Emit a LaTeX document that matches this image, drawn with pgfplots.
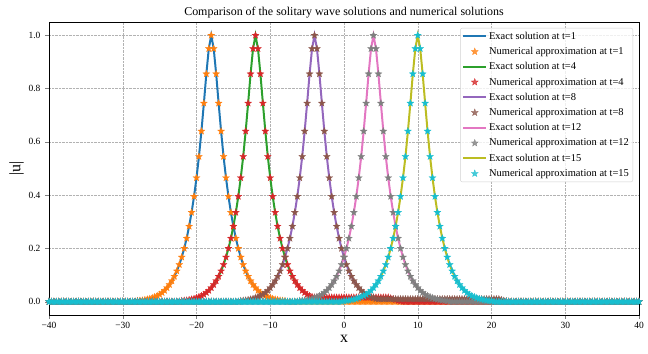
\documentclass[border=0pt]{standalone}
\usepackage{fontspec}
\setmainfont{Liberation Serif}
\usepackage{pgfplots}
\usepackage{pgfplotstable}
\pgfplotsset{compat=1.18}

\definecolor{c0}{HTML}{1F77B4}
\definecolor{c1}{HTML}{FF7F0E}
\definecolor{c2}{HTML}{2CA02C}
\definecolor{c3}{HTML}{D62728}
\definecolor{c4}{HTML}{9467BD}
\definecolor{c5}{HTML}{8C564B}
\definecolor{c6}{HTML}{E377C2}
\definecolor{c7}{HTML}{7F7F7F}
\definecolor{c8}{HTML}{BCBD22}
\definecolor{c9}{HTML}{17BECF}

% filled five-pointed star, like matplotlib's '*'
\pgfdeclareplotmark{fstar}{%
  \pgfpathmoveto{\pgfpointpolar{90}{\pgfplotmarksize}}%
  \pgfpathlineto{\pgfpointpolar{126}{0.42\pgfplotmarksize}}%
  \pgfpathlineto{\pgfpointpolar{162}{\pgfplotmarksize}}%
  \pgfpathlineto{\pgfpointpolar{198}{0.42\pgfplotmarksize}}%
  \pgfpathlineto{\pgfpointpolar{234}{\pgfplotmarksize}}%
  \pgfpathlineto{\pgfpointpolar{270}{0.42\pgfplotmarksize}}%
  \pgfpathlineto{\pgfpointpolar{306}{\pgfplotmarksize}}%
  \pgfpathlineto{\pgfpointpolar{342}{0.42\pgfplotmarksize}}%
  \pgfpathlineto{\pgfpointpolar{18}{\pgfplotmarksize}}%
  \pgfpathlineto{\pgfpointpolar{54}{0.42\pgfplotmarksize}}%
  \pgfpathclose
  \pgfusepathqfillstroke
}

% |u| at t=1,4,8,12,15 (a..e); bn, cn = numerical t=4, t=8 with small radiation
\pgfplotstableread{
x a b bn c cn d e
-40 0 0 0 0 0 0 0
-39.667 0 0 0 0 0 0 0
-39.333 0 0 0 0 0 0 0
-39 0 0 0 0 0 0 0
-38.667 0 0 0 0 0 0 0
-38.333 0 0 0 0 0 0 0
-38 0 0 0 0 0 0 0
-37.667 0 0 0 0 0 0 0
-37.333 0 0 0 0 0 0 0
-37 0 0 0 0 0 0 0
-36.667 0 0 0 0 0 0 0
-36.333 0 0 0 0 0 0 0
-36 0 0 0 0 0 0 0
-35.667 0 0 0 0 0 0 0
-35.333 0 0 0 0 0 0 0
-35 0 0 0 0 0 0 0
-34.667 0 0 0 0 0 0 0
-34.333 0 0 0 0 0 0 0
-34 0 0 0 0 0 0 0
-33.667 0 0 0 0 0 0 0
-33.333 0 0 0 0 0 0 0
-33 0 0 0 0 0 0 0
-32.667 0 0 0 0 0 0 0
-32.333 0 0 0 0 0 0 0
-32 0 0 0 0 0 0 0
-31.667 0 0 0 0 0 0 0
-31.333 0 0 0 0 0 0 0
-31 0 0 0 0 0 0 0
-30.667 0 0 0 0 0 0 0
-30.333 0 0 0 0 0 0 0
-30 0 0 0 0 0 0 0
-29.667 0 0 0 0 0 0 0
-29.333 0 0 0 0 0 0 0
-29 0 0 0 0 0 0 0
-28.667 0 0 0 0 0 0 0
-28.333 0 0 0 0 0 0 0
-28 0.003 0 0 0 0 0 0
-27.667 0.004 0 0 0 0 0 0
-27.333 0.005 0 0 0 0 0 0
-27 0.007 0 0 0 0 0 0
-26.667 0.009 0 0 0 0 0 0
-26.333 0.011 0 0 0 0 0 0
-26 0.014 0 0 0 0 0 0
-25.667 0.018 0 0 0 0 0 0
-25.333 0.022 0 0 0 0 0 0
-25 0.027 0 0 0 0 0 0
-24.667 0.034 0 0 0 0 0 0
-24.333 0.042 0 0 0 0 0 0
-24 0.052 0 0 0 0 0 0
-23.667 0.064 0 0 0 0 0 0
-23.333 0.078 0 0 0 0 0 0
-23 0.095 0 0 0 0 0 0
-22.667 0.115 0 0 0 0 0 0
-22.333 0.139 0 0 0 0 0 0
-22 0.167 0.003 0.003 0 0 0 0
-21.667 0.200 0.004 0.004 0 0 0 0
-21.333 0.238 0.005 0.005 0 0 0 0
-21 0.283 0.007 0.007 0 0 0 0
-20.667 0.335 0.009 0.009 0 0 0 0
-20.333 0.395 0.011 0.011 0 0 0 0
-20 0.465 0.014 0.014 0 0 0 0
-19.667 0.545 0.018 0.018 0 0 0 0
-19.333 0.640 0.022 0.022 0 0 0 0
-19 0.745 0.027 0.027 0 0 0 0
-18.667 0.855 0.034 0.034 0 0 0 0
-18.333 0.950 0.042 0.042 0 0 0 0
-18 1.000 0.052 0.052 0 0 0 0
-17.667 0.950 0.064 0.064 0 0 0 0
-17.333 0.855 0.078 0.078 0 0 0 0
-17 0.745 0.095 0.095 0 0 0 0
-16.667 0.640 0.115 0.115 0 0 0 0
-16.333 0.545 0.139 0.139 0 0 0 0
-16 0.465 0.167 0.167 0 0 0 0
-15.667 0.395 0.200 0.200 0 0 0 0
-15.333 0.335 0.238 0.238 0 0 0 0
-15 0.283 0.283 0.283 0 0 0 0
-14.667 0.238 0.335 0.335 0 0 0 0
-14.333 0.200 0.395 0.395 0 0 0 0
-14 0.167 0.465 0.465 0.003 0.003 0 0
-13.667 0.139 0.545 0.545 0.004 0.004 0 0
-13.333 0.115 0.640 0.640 0.005 0.005 0 0
-13 0.095 0.745 0.745 0.007 0.007 0 0
-12.667 0.078 0.855 0.855 0.009 0.009 0 0
-12.333 0.064 0.950 0.950 0.011 0.011 0 0
-12 0.052 1.000 1.000 0.014 0.014 0 0
-11.667 0.042 0.950 0.950 0.018 0.018 0 0
-11.333 0.034 0.855 0.855 0.022 0.022 0 0
-11 0.027 0.745 0.745 0.027 0.027 0 0
-10.667 0.022 0.640 0.640 0.034 0.034 0 0
-10.333 0.018 0.545 0.545 0.042 0.042 0 0
-10 0.014 0.465 0.465 0.052 0.052 0 0
-9.667 0.011 0.395 0.395 0.064 0.064 0 0
-9.333 0.009 0.335 0.335 0.078 0.078 0 0
-9 0.007 0.283 0.283 0.095 0.095 0 0
-8.667 0.005 0.238 0.238 0.115 0.115 0 0
-8.333 0.004 0.200 0.200 0.139 0.139 0 0
-8 0.003 0.167 0.167 0.167 0.167 0 0
-7.667 0 0.139 0.139 0.200 0.200 0 0
-7.333 0 0.115 0.115 0.238 0.238 0 0
-7 0 0.095 0.095 0.283 0.283 0 0
-6.667 0 0.078 0.078 0.335 0.335 0 0
-6.333 0 0.064 0.064 0.395 0.395 0 0
-6 0 0.052 0.052 0.465 0.465 0.003 0
-5.667 0 0.042 0.042 0.545 0.545 0.004 0
-5.333 0 0.034 0.034 0.640 0.640 0.005 0
-5 0 0.027 0.027 0.745 0.745 0.007 0
-4.667 0 0.022 0.022 0.855 0.855 0.009 0
-4.333 0 0.018 0.018 0.950 0.950 0.011 0
-4 0 0.014 0.016 1.000 1.000 0.014 0
-3.667 0 0.011 0.016 0.950 0.950 0.018 0
-3.333 0 0.009 0.016 0.855 0.855 0.022 0
-3 0 0.007 0.016 0.745 0.745 0.027 0
-2.667 0 0.005 0.016 0.640 0.640 0.034 0
-2.333 0 0.004 0.016 0.545 0.545 0.042 0
-2 0 0.003 0.016 0.465 0.465 0.052 0
-1.667 0 0 0.016 0.395 0.395 0.064 0
-1.333 0 0 0.016 0.335 0.335 0.078 0
-1 0 0 0.016 0.283 0.283 0.095 0
-0.667 0 0 0.016 0.238 0.238 0.115 0
-0.333 0 0 0.016 0.200 0.200 0.139 0
0 0 0 0.016 0.167 0.167 0.167 0.003
0.333 0 0 0.016 0.139 0.139 0.200 0.004
0.667 0 0 0.016 0.115 0.115 0.238 0.005
1 0 0 0.016 0.095 0.095 0.283 0.007
1.333 0 0 0.016 0.078 0.078 0.335 0.009
1.667 0 0 0.016 0.064 0.064 0.395 0.011
2 0 0 0.016 0.052 0.052 0.465 0.014
2.333 0 0 0.016 0.042 0.042 0.545 0.018
2.667 0 0 0.016 0.034 0.034 0.640 0.022
3 0 0 0.016 0.027 0.027 0.745 0.027
3.333 0 0 0.016 0.022 0.022 0.855 0.034
3.667 0 0 0.016 0.018 0.018 0.950 0.042
4 0 0 0.016 0.014 0.014 1.000 0.052
4.333 0 0 0.016 0.011 0.011 0.950 0.064
4.667 0 0 0.016 0.009 0.010 0.855 0.078
5 0 0 0.016 0.007 0.010 0.745 0.095
5.333 0 0 0.016 0.005 0.010 0.640 0.115
5.667 0 0 0.016 0.004 0.010 0.545 0.139
6 0 0 0.016 0.003 0.010 0.465 0.167
6.333 0 0 0.013 0 0.010 0.395 0.200
6.667 0 0 0.010 0 0.010 0.335 0.238
7 0 0 0.007 0 0.010 0.283 0.283
7.333 0 0 0.004 0 0.010 0.238 0.335
7.667 0 0 0.002 0 0.010 0.200 0.395
8 0 0 0 0 0.010 0.167 0.465
8.333 0 0 0 0 0.010 0.139 0.545
8.667 0 0 0 0 0.010 0.115 0.640
9 0 0 0 0 0.010 0.095 0.745
9.333 0 0 0 0 0.010 0.078 0.855
9.667 0 0 0 0 0.010 0.064 0.950
10 0 0 0 0 0.010 0.052 1.000
10.333 0 0 0 0 0.010 0.042 0.950
10.667 0 0 0 0 0.010 0.034 0.855
11 0 0 0 0 0.010 0.027 0.745
11.333 0 0 0 0 0.010 0.022 0.640
11.667 0 0 0 0 0.010 0.018 0.545
12 0 0 0 0 0.010 0.014 0.465
12.333 0 0 0 0 0.010 0.011 0.395
12.667 0 0 0 0 0.010 0.009 0.335
13 0 0 0 0 0.010 0.007 0.283
13.333 0 0 0 0 0.010 0.005 0.238
13.667 0 0 0 0 0.010 0.004 0.200
14 0 0 0 0 0.010 0.003 0.167
14.333 0 0 0 0 0.010 0 0.139
14.667 0 0 0 0 0.010 0 0.115
15 0 0 0 0 0.010 0 0.095
15.333 0 0 0 0 0.010 0 0.078
15.667 0 0 0 0 0.010 0 0.064
16 0 0 0 0 0.010 0 0.052
16.333 0 0 0 0 0.010 0 0.042
16.667 0 0 0 0 0.010 0 0.034
17 0 0 0 0 0.010 0 0.027
17.333 0 0 0 0 0.010 0 0.022
17.667 0 0 0 0 0.010 0 0.018
18 0 0 0 0 0.010 0 0.014
18.333 0 0 0 0 0.010 0 0.011
18.667 0 0 0 0 0.010 0 0.009
19 0 0 0 0 0.010 0 0.007
19.333 0 0 0 0 0.010 0 0.005
19.667 0 0 0 0 0.010 0 0.004
20 0 0 0 0 0.010 0 0.003
20.333 0 0 0 0 0.010 0 0
20.667 0 0 0 0 0.010 0 0
21 0 0 0 0 0.010 0 0
21.333 0 0 0 0 0.007 0 0
21.667 0 0 0 0 0.004 0 0
22 0 0 0 0 0.002 0 0
22.333 0 0 0 0 0 0 0
22.667 0 0 0 0 0 0 0
23 0 0 0 0 0 0 0
23.333 0 0 0 0 0 0 0
23.667 0 0 0 0 0 0 0
24 0 0 0 0 0 0 0
24.333 0 0 0 0 0 0 0
24.667 0 0 0 0 0 0 0
25 0 0 0 0 0 0 0
25.333 0 0 0 0 0 0 0
25.667 0 0 0 0 0 0 0
26 0 0 0 0 0 0 0
26.333 0 0 0 0 0 0 0
26.667 0 0 0 0 0 0 0
27 0 0 0 0 0 0 0
27.333 0 0 0 0 0 0 0
27.667 0 0 0 0 0 0 0
28 0 0 0 0 0 0 0
28.333 0 0 0 0 0 0 0
28.667 0 0 0 0 0 0 0
29 0 0 0 0 0 0 0
29.333 0 0 0 0 0 0 0
29.667 0 0 0 0 0 0 0
30 0 0 0 0 0 0 0
30.333 0 0 0 0 0 0 0
30.667 0 0 0 0 0 0 0
31 0 0 0 0 0 0 0
31.333 0 0 0 0 0 0 0
31.667 0 0 0 0 0 0 0
32 0 0 0 0 0 0 0
32.333 0 0 0 0 0 0 0
32.667 0 0 0 0 0 0 0
33 0 0 0 0 0 0 0
33.333 0 0 0 0 0 0 0
33.667 0 0 0 0 0 0 0
34 0 0 0 0 0 0 0
34.333 0 0 0 0 0 0 0
34.667 0 0 0 0 0 0 0
35 0 0 0 0 0 0 0
35.333 0 0 0 0 0 0 0
35.667 0 0 0 0 0 0 0
36 0 0 0 0 0 0 0
36.333 0 0 0 0 0 0 0
36.667 0 0 0 0 0 0 0
37 0 0 0 0 0 0 0
37.333 0 0 0 0 0 0 0
37.667 0 0 0 0 0 0 0
38 0 0 0 0 0 0 0
38.333 0 0 0 0 0 0 0
38.667 0 0 0 0 0 0 0
39 0 0 0 0 0 0 0
39.333 0 0 0 0 0 0 0
39.667 0 0 0 0 0 0 0
40 0 0 0 0 0 0 0
}\soldata

\begin{document}
\begin{tikzpicture}
\begin{axis}[
  name=ax,
  width=590bp, height=293bp, scale only axis,
  xmin=-40, xmax=40, ymin=-0.05, ymax=1.05,
  xtick={-40,-30,-20,-10,0,10,20,30,40},
  xticklabels={−40,−30,−20,−10,0,10,20,30,40},
  ytick={0,0.2,0.4,0.6,0.8,1.0},
  yticklabels={0.0,0.2,0.4,0.6,0.8,1.0},
  tick label style={font=\fontsize{9.5}{10}\selectfont},
  yticklabel style={xshift=-1.5bp},
  tick pos=left, tick align=outside, major tick length=3.5bp,
  grid=major, grid style={densely dotted, gray!60, line width=0.5pt},
  axis line style={line width=0.8pt},
  title={Comparison of the solitary wave solutions and numerical solutions},
  title style={font=\fontsize{12}{13}\selectfont, yshift=-6bp},
  xlabel={x}, ylabel={|u|},
  label style={font=\fontsize{16}{17}\selectfont},
  ylabel style={yshift=-2bp},
  legend style={at={(0.99,0.98)}, anchor=north east,
    font=\fontsize{10.5}{11}\selectfont, draw=gray!35, rounded corners=2bp,
    fill=white, fill opacity=0.8, text opacity=1, inner sep=2bp, row sep=2.5bp},
  legend cell align=left,
  legend image code/.code={\draw[mark repeat=2,mark phase=2] plot coordinates {(0cm,0cm) (0.4cm,0cm) (0.8cm,0cm)};},
]
\addplot[c0, line width=2pt, no markers] table[x=x,y=a]{\soldata};
\addlegendentry{Exact solution at t=1}
\addplot[c1, only marks, mark=fstar, mark size=3.7bp, mark options={line width=0.2pt}] table[x=x,y=a]{\soldata};
\addlegendentry{Numerical approximation at t=1}
\addplot[c2, line width=2pt, no markers] table[x=x,y=b]{\soldata};
\addlegendentry{Exact solution at t=4}
\addplot[c3, only marks, mark=fstar, mark size=3.7bp, mark options={line width=0.2pt}] table[x=x,y=bn]{\soldata};
\addlegendentry{Numerical approximation at t=4}
\addplot[c4, line width=2pt, no markers] table[x=x,y=c]{\soldata};
\addlegendentry{Exact solution at t=8}
\addplot[c5, only marks, mark=fstar, mark size=3.7bp, mark options={line width=0.2pt}] table[x=x,y=cn]{\soldata};
\addlegendentry{Numerical approximation at t=8}
\addplot[c6, line width=2pt, no markers] table[x=x,y=d]{\soldata};
\addlegendentry{Exact solution at t=12}
\addplot[c7, only marks, mark=fstar, mark size=3.7bp, mark options={line width=0.2pt}] table[x=x,y=d]{\soldata};
\addlegendentry{Numerical approximation at t=12}
\addplot[c8, line width=2pt, no markers] table[x=x,y=e]{\soldata};
\addlegendentry{Exact solution at t=15}
\addplot[c9, only marks, mark=fstar, mark size=3.7bp, mark options={line width=0.2pt}] table[x=x,y=e]{\soldata};
\addlegendentry{Numerical approximation at t=15}
\end{axis}
\pgfresetboundingbox
\path[use as bounding box] ([shift={(-49bp,-39bp)}]ax.south west) rectangle ([shift={(9bp,22bp)}]ax.north east);
\end{tikzpicture}
\end{document}
